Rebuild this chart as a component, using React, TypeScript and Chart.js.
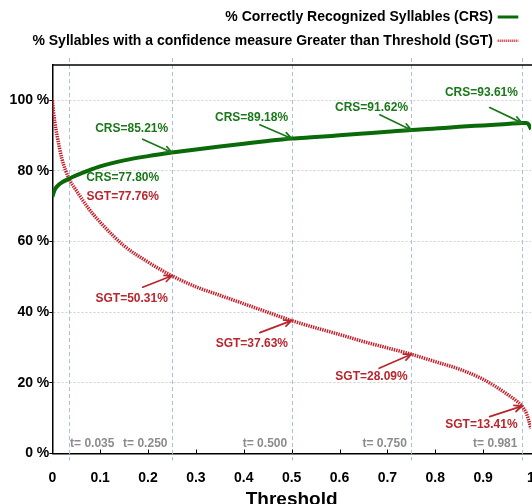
import React, { useEffect, useRef } from "react";
import { Chart, registerables } from "chart.js";

Chart.register(...registerables);

// ---- data ----
const thresholds = [0, 0.005, 0.01, 0.02, 0.035, 0.05, 0.075, 0.1, 0.15, 0.2, 0.25, 0.3, 0.35, 0.4, 0.45, 0.5, 0.55, 0.6, 0.65, 0.7, 0.75, 0.8, 0.85, 0.9, 0.95, 0.981, 0.99, 0.995, 1.0];
const crsValues = [72.7, 74.65, 75.65, 76.75, 77.8, 78.73, 80.1, 81.3, 83.0, 84.2, 85.21, 86.1, 86.9, 87.7, 88.5, 89.18, 89.6, 90.1, 90.6, 91.1, 91.62, 92.0, 92.5, 92.9, 93.3, 93.61, 93.6, 93.2, 91.8];
const sgtValues = [100, 94, 90, 83.5, 77.76, 74.5, 69.5, 65.5, 58.8, 54.2, 50.31, 47.2, 44.8, 42.4, 40.0, 37.63, 35.6, 33.7, 31.7, 29.9, 28.09, 26.0, 23.9, 21.0, 16.8, 13.41, 11.5, 9.5, 7.0];

const markThresholds = [0.035, 0.25, 0.5, 0.75, 0.981];
const markLabels = ["t= 0.035", "t= 0.250", "t= 0.500", "t= 0.750", "t= 0.981"];
const crsAtMarks = [77.8, 85.21, 89.18, 91.62, 93.61];
const sgtAtMarks = [77.76, 50.31, 37.63, 28.09, 13.41];

const legendLabels = [
  "% Correctly Recognized Syllables (CRS)",
  "% Syllables with a confidence measure Greater than Threshold (SGT)",
];
const xTitle = "Threshold";

// ---- styles / layout ----
const FONT = "'Liberation Sans', Arial, Helvetica, sans-serif";
const GREEN = "#0a6a0a";
const GREEN_TXT = "#1a781a";
const RED = "#c41c26";
const RED_TXT = "#b8262e";

const crsNoteLayout = [
  { dx: 53.6, dy: -0.6, tail: null },
  { dx: -40.3, dy: -23.4, tail: [-29.3, -13.4] },
  { dx: -40.1, dy: -20.4, tail: [-31.8, -13.7] },
  { dx: -39.8, dy: -21.8, tail: [-31.5, -15.1] },
  { dx: -40.5, dy: -29.7, tail: [-32.2, -15.3] },
];
const sgtNoteLayout = [
  { dx: 53.6, dy: 17.7, tail: null },
  { dx: -40.3, dy: 22.4, tail: [-29.3, 11.4] },
  { dx: -39.8, dy: 22.6, tail: [-31.8, 12] },
  { dx: -39.8, dy: 22.4, tail: [-32.2, 14] },
  { dx: -40.5, dy: 18.8, tail: [-32.2, 10.5] },
];

function arrow(ctx: CanvasRenderingContext2D, x1: number, y1: number, x2: number, y2: number, color: string) {
  const ang = Math.atan2(y2 - y1, x2 - x1);
  const hl = 8;
  const ha = 0.42;
  ctx.save();
  ctx.strokeStyle = color;
  ctx.lineWidth = 1.7;
  ctx.lineCap = "round";
  ctx.beginPath();
  ctx.moveTo(x1, y1);
  ctx.lineTo(x2, y2);
  ctx.moveTo(x2 - hl * Math.cos(ang - ha), y2 - hl * Math.sin(ang - ha));
  ctx.lineTo(x2, y2);
  ctx.lineTo(x2 - hl * Math.cos(ang + ha), y2 - hl * Math.sin(ang + ha));
  ctx.stroke();
  ctx.restore();
}

const decorPlugin = {
  id: "decor",
  beforeDatasetsDraw(chart: any) {
    const { ctx, chartArea } = chart;
    const xs = chart.scales.x;
    ctx.save();
    // vertical threshold lines
    ctx.strokeStyle = "#a9bfdc";
    ctx.lineWidth = 1;
    ctx.setLineDash([4, 3]);
    markThresholds.forEach((t) => {
      const x = Math.round(xs.getPixelForValue(t)) + 0.5;
      ctx.beginPath();
      ctx.moveTo(x, chartArea.top - 7);
      ctx.lineTo(x, chartArea.bottom + 7);
      ctx.stroke();
    });
    ctx.setLineDash([]);
    // top frame
    ctx.strokeStyle = "#000";
    ctx.lineWidth = 1.5;
    ctx.beginPath();
    ctx.moveTo(chartArea.left, chartArea.top);
    ctx.lineTo(chartArea.right + 20, chartArea.top);
    ctx.stroke();
    // inner x ticks
    ctx.lineWidth = 1;
    for (let i = 1; i < 10; i++) {
      const x = Math.round(xs.getPixelForValue(i / 10)) + 0.5;
      ctx.beginPath();
      ctx.moveTo(x, chartArea.bottom);
      ctx.lineTo(x, chartArea.bottom - 4);
      ctx.stroke();
    }
    // t labels
    ctx.fillStyle = "#8c8c8c";
    ctx.font = `bold 12px ${FONT}`;
    ctx.textBaseline = "middle";
    markThresholds.forEach((t, i) => {
      const x = xs.getPixelForValue(t);
      if (i === 0) {
        ctx.textAlign = "left";
        ctx.fillText(markLabels[i], x + 1, chartArea.bottom - 9.5);
      } else {
        ctx.textAlign = "right";
        ctx.fillText(markLabels[i], x - 4.5, chartArea.bottom - 9.5);
      }
    });
    ctx.restore();
  },
  afterDraw(chart: any) {
    const { ctx, chartArea } = chart;
    const xs = chart.scales.x;
    const ys = chart.scales.y;
    ctx.save();
    ctx.font = `bold 12px ${FONT}`;
    ctx.textAlign = "center";
    ctx.textBaseline = "middle";
    markThresholds.forEach((t, i) => {
      const px = xs.getPixelForValue(t);
      const cy = ys.getPixelForValue(crsAtMarks[i]);
      const cl = crsNoteLayout[i];
      ctx.fillStyle = GREEN_TXT;
      ctx.fillText(`CRS=${crsAtMarks[i].toFixed(2)}%`, px + cl.dx, cy + cl.dy);
      if (cl.tail) arrow(ctx, px + cl.tail[0], cy + cl.tail[1], px, cy, GREEN_TXT);
      const sy = ys.getPixelForValue(sgtAtMarks[i]);
      const sl = sgtNoteLayout[i];
      ctx.fillStyle = RED_TXT;
      ctx.fillText(`SGT=${sgtAtMarks[i].toFixed(2)}%`, px + sl.dx, sy + sl.dy);
      if (sl.tail) arrow(ctx, px + sl.tail[0], sy + sl.tail[1], px, sy, RED_TXT);
    });
    // legend
    ctx.font = `bold 14px ${FONT}`;
    ctx.textAlign = "right";
    ctx.fillStyle = "#000";
    ctx.fillText(legendLabels[0], 493, 17);
    ctx.fillText(legendLabels[1], 493, 40.7);
    ctx.strokeStyle = GREEN;
    ctx.lineWidth = 3;
    ctx.beginPath();
    ctx.moveTo(497.7, 17);
    ctx.lineTo(518.3, 17);
    ctx.stroke();
    ctx.strokeStyle = RED;
    ctx.lineWidth = 2.5;
    ctx.setLineDash([1, 1]);
    ctx.beginPath();
    ctx.moveTo(497.7, 40.7);
    ctx.lineTo(518.3, 40.7);
    ctx.stroke();
    ctx.setLineDash([]);
    // x title
    ctx.font = `bold 19px ${FONT}`;
    ctx.textAlign = "center";
    ctx.textBaseline = "alphabetic";
    ctx.fillText(xTitle, (chartArea.left + chartArea.right) / 2, 505);
    ctx.restore();
  },
};

export default function App() {
  const ref = useRef<HTMLCanvasElement | null>(null);
  useEffect(() => {
    if (!ref.current) return;
    const chart = new Chart(ref.current, {
      type: "line",
      data: {
        datasets: [
          {
            label: legendLabels[0],
            data: thresholds.map((x, i) => ({ x, y: crsValues[i] })),
            borderColor: GREEN,
            borderWidth: 4,
            pointRadius: 0,
            cubicInterpolationMode: "monotone",
            fill: false,
          },
          {
            label: legendLabels[1],
            data: thresholds.map((x, i) => ({ x, y: sgtValues[i] })),
            borderColor: RED,
            borderWidth: 3.5,
            borderDash: [1.4, 1],
            pointRadius: 0,
            cubicInterpolationMode: "monotone",
            fill: false,
          },
        ],
      },
      options: {
        animation: false,
        responsive: false,
        devicePixelRatio: 1,
        layout: { padding: { left: 0, top: 65, right: 14, bottom: 0 } },
        plugins: { legend: { display: false }, tooltip: { enabled: false } },
        scales: {
          x: {
            type: "linear",
            min: 0,
            max: 1,
            ticks: {
              stepSize: 0.1,
              color: "#000",
              font: { family: FONT, size: 14, weight: "bold" },
              padding: 0,
              maxRotation: 0,
              autoSkip: false,
              callback: (v: any) => String(Math.round(Number(v) * 10) / 10),
            },
            grid: { display: false, drawTicks: true, tickLength: 16 },
            border: { display: true, color: "#000", width: 1.5 },
            afterFit: (s: any) => {
              s.height = 50.5;
              s.paddingLeft = 0;
              s.paddingRight = 0;
            },
          },
          y: {
            type: "linear",
            min: 0,
            max: 110,
            afterBuildTicks: (s: any) => {
              s.ticks = s.ticks.filter((t: any) => t.value <= 100 && t.value % 20 === 0);
            },
            ticks: {
              stepSize: 20,
              color: "#000",
              font: { family: FONT, size: 14, weight: "bold" },
              padding: 0,
              callback: (v: any) => `${v} %`,
            },
            grid: {
              color: "#cfcfcf",
              lineWidth: 1,
              tickColor: "#000",
              tickLength: 3,
              tickWidth: 1,
              tickBorderDash: [],
            },
            border: { display: true, color: "#000", width: 1.5, dash: [2, 2] },
            afterFit: (s: any) => {
              s.width = 52.3;
            },
          },
        },
      },
      plugins: [decorPlugin],
    } as any);
    return () => chart.destroy();
  }, []);
  return (
    <div
      style={{
        position: "fixed",
        left: 0,
        top: 0,
        width: 532,
        height: 504,
        overflow: "hidden",
        background: "#fff",
      }}
    >
      <canvas ref={ref} width={545} height={504} style={{ display: "block", width: 545, height: 504 }} />
    </div>
  );
}
